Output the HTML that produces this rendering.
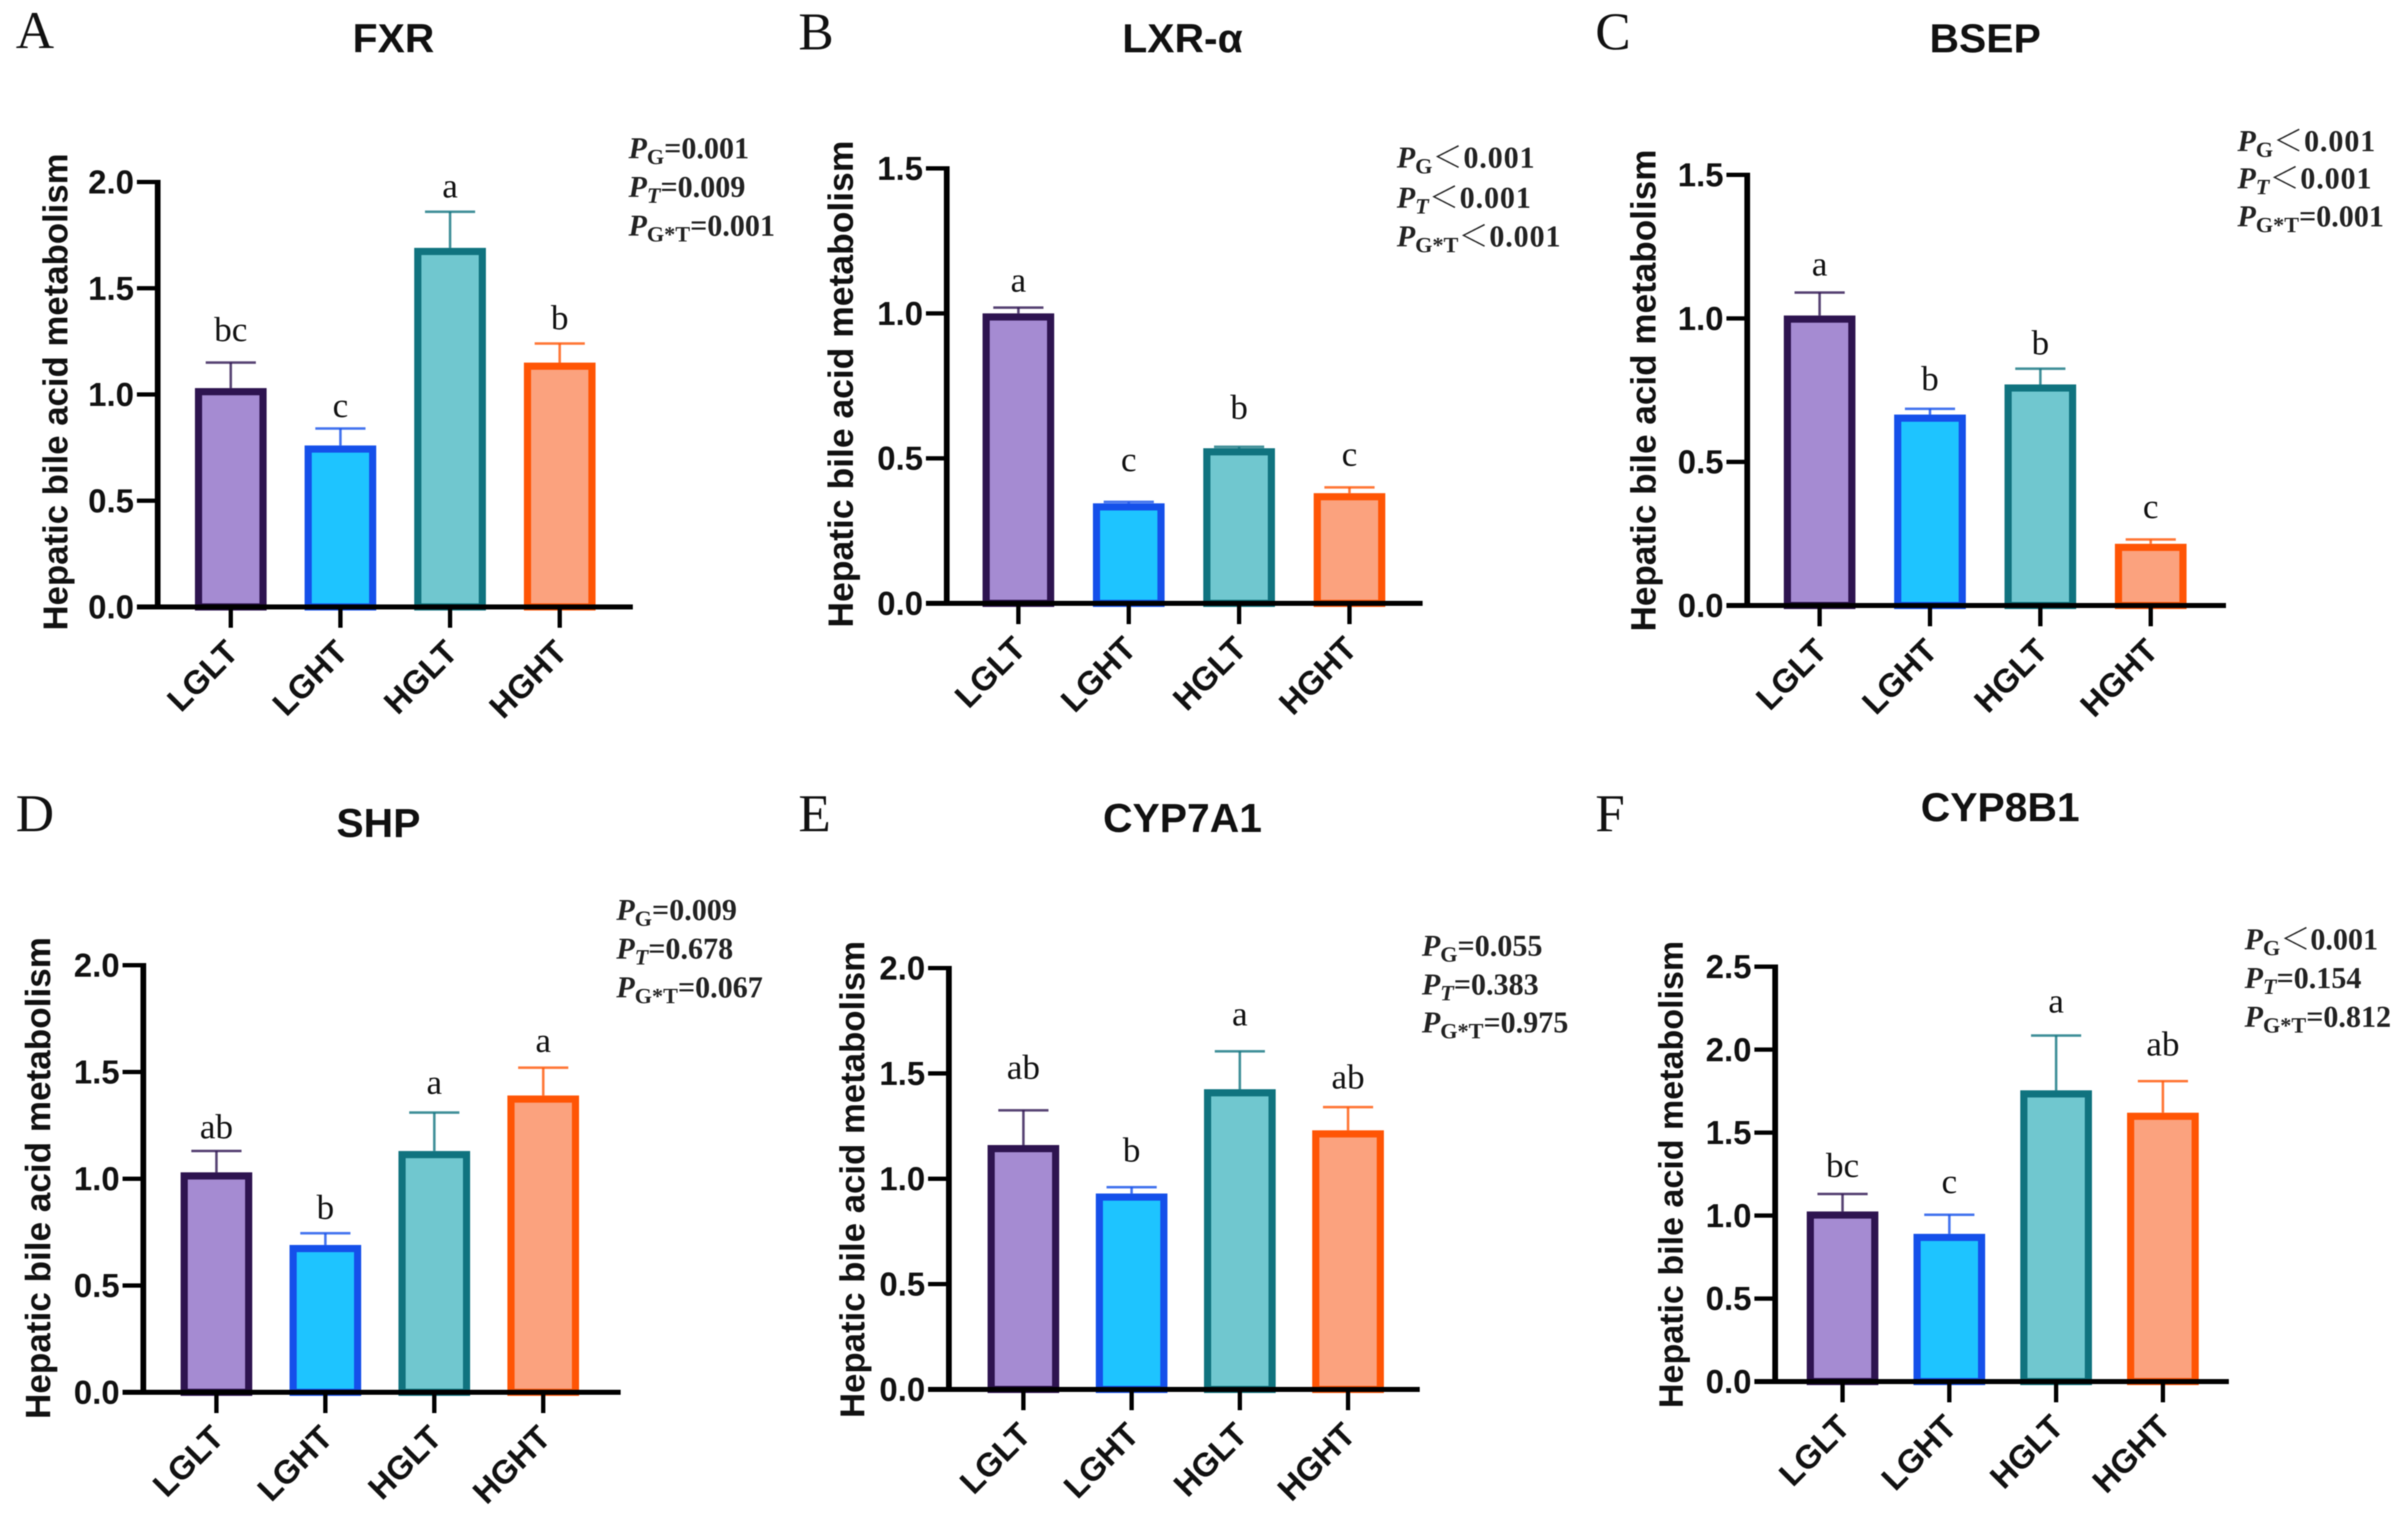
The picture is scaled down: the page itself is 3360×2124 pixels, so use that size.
<!DOCTYPE html>
<html lang="en">
<head>
<meta charset="utf-8">
<title>Hepatic bile acid metabolism gene expression</title>
<style>
html,body{margin:0;padding:0;background:#fff;}
svg{display:block;filter:blur(0.7px);}
.tick{font:bold 46px "Liberation Sans",sans-serif;fill:#111;}
.xlab{font:bold 46px "Liberation Sans",sans-serif;fill:#111;}
.ytitle{font-family:"Liberation Sans",sans-serif;font-weight:bold;fill:#111;}
.title{font:bold 57px "Liberation Sans",sans-serif;fill:#111;}
.plabel{font:74px "Liberation Serif",serif;fill:#111;}
.sig{font:49px "Liberation Serif",serif;fill:#111;}
.pval{font:bold 42px "Liberation Serif","Noto Serif CJK SC",serif;fill:#222;}
</style>
</head>
<body>
<svg id="chart" xmlns="http://www.w3.org/2000/svg" width="3360" height="2124" viewBox="0 0 3360 2124"></svg>
<script>
const categories = ['LGLT', 'LGHT', 'HGLT', 'HGHT'];
const yAxisTitle = 'Hepatic bile acid metabolism';

const titles = ['FXR', 'LXR-α', 'BSEP', 'SHP', 'CYP7A1', 'CYP8B1'];
const panelLetters = ['A', 'B', 'C', 'D', 'E', 'F'];

const meansFXR = [1.03, 0.76, 1.69, 1.15];
const errorTopsFXR = [1.15, 0.84, 1.86, 1.24];
const letterFXR = ['bc', 'c', 'a', 'b'];
const ticksFXR = [0.0, 0.5, 1.0, 1.5, 2.0];
const pFXR = ['=0.001', '=0.009', '=0.001'];

const meansLXR = [1.00, 0.345, 0.535, 0.38];
const errorTopsLXR = [1.02, 0.35, 0.54, 0.40];
const letterLXR = ['a', 'c', 'b', 'c'];
const ticksLXR = [0.0, 0.5, 1.0, 1.5];
const pLXR = ['＜0.001', '＜0.001', '＜0.001'];

const meansBSEP = [1.01, 0.665, 0.77, 0.215];
const errorTopsBSEP = [1.09, 0.685, 0.825, 0.23];
const letterBSEP = ['a', 'b', 'b', 'c'];
const ticksBSEP = [0.0, 0.5, 1.0, 1.5];
const pBSEP = ['＜0.001', '＜0.001', '=0.001'];

const meansSHP = [1.03, 0.69, 1.13, 1.39];
const errorTopsSHP = [1.13, 0.745, 1.31, 1.52];
const letterSHP = ['ab', 'b', 'a', 'a'];
const ticksSHP = [0.0, 0.5, 1.0, 1.5, 2.0];
const pSHP = ['=0.009', '=0.678', '=0.067'];

const meansCYP7 = [1.16, 0.93, 1.425, 1.23];
const errorTopsCYP7 = [1.325, 0.96, 1.605, 1.34];
const letterCYP7 = ['ab', 'b', 'a', 'ab'];
const ticksCYP7 = [0.0, 0.5, 1.0, 1.5, 2.0];
const pCYP7 = ['=0.055', '=0.383', '=0.975'];

const meansCYP8 = [1.025, 0.89, 1.755, 1.62];
const errorTopsCYP8 = [1.13, 1.005, 2.085, 1.81];
const letterCYP8 = ['bc', 'c', 'a', 'ab'];
const ticksCYP8 = [0.0, 0.5, 1.0, 1.5, 2.0, 2.5];
const pCYP8 = ['＜0.001', '=0.154', '=0.812'];

const allMeans = [meansFXR, meansLXR, meansBSEP, meansSHP, meansCYP7, meansCYP8];
const allTops = [errorTopsFXR, errorTopsLXR, errorTopsBSEP, errorTopsSHP, errorTopsCYP7, errorTopsCYP8];
const allLetters = [letterFXR, letterLXR, letterBSEP, letterSHP, letterCYP7, letterCYP8];
const allTicks = [ticksFXR, ticksLXR, ticksBSEP, ticksSHP, ticksCYP7, ticksCYP8];
const allP = [pFXR, pLXR, pBSEP, pSHP, pCYP7, pCYP8];

/* Page layout only: where each panel sits in the figure. */
const panelLayout = [
  {ax:220, base:847, top:254, x0:322, dx:153, right:883, ttx:549, tty:73, lx:22, ly:67, ytx:94, yty:547, ytf:48.5, px:877, py:[221,275,329], gap:20, nudge:[-10,4,0,0], ltSp:0},
  {ax:1321, base:842, top:235, x0:1421, dx:154, right:1985, ttx:1650, tty:73, lx:1114, ly:69, ytx:1190, yty:536, ytf:49.5, px:1949, py:[234,290,344], gap:30, nudge:[8,-13,-9,0], ltSp:1.2},
  {ax:2438, base:845, top:244, x0:2539, dx:154, right:3106, ttx:2770, tty:73, lx:2226, ly:69, ytx:2310, yty:545, ytf:49, px:3122, py:[211,263,316], gap:24, nudge:[0,-2,4,-6], ltSp:1.2},
  {ax:200, base:1943, top:1347, x0:302, dx:152, right:866, ttx:528, tty:1168, lx:22, ly:1160, ytx:70, yty:1644, ytf:49, px:860, py:[1284,1338,1392], gap:22, nudge:[4,2,-4,0], ltSp:0},
  {ax:1324, base:1939, top:1351, x0:1428, dx:151, right:1981, ttx:1650, tty:1161, lx:1114, ly:1160, ytx:1206, yty:1646, ytf:48.5, px:1984, py:[1334,1388,1441], gap:36, nudge:[-8,0,0,10], ltSp:0},
  {ax:2477, base:1928, top:1349, x0:2571, dx:149, right:3110, ttx:2791, tty:1146, lx:2226, ly:1160, ytx:2348, yty:1639, ytf:47.5, px:3132, py:[1325,1379,1433], gap:30, nudge:[6,0,-2,-6], ltSp:0}
];

const strokeColors = ['#2E1450', '#1550EA', '#10737F', '#FF5505'];
const fillColors = ['#A58BD2', '#1EC4FF', '#70C7CF', '#FBA27E'];
const NS = 'http://www.w3.org/2000/svg';
const svg = document.getElementById('chart');

function mk(tag, attrs, parent) {
  const node = document.createElementNS(NS, tag);
  for (const k in attrs) node.setAttribute(k, attrs[k]);
  parent.appendChild(node);
  return node;
}

function drawPanel(p) {
  const L = panelLayout[p];
  const means = allMeans[p], tops = allTops[p], letters = allLetters[p], ticks = allTicks[p], pv = allP[p];
  const maxTick = ticks[ticks.length - 1];
  const yScale = v => L.base - (v / maxTick) * (L.base - L.top);
  const xScale = i => L.x0 + i * L.dx;
  const barW = 100, sw = 10;

  const g = mk('g', {}, svg);
  
  

  const letter = mk('text', {x: L.lx, y: L.ly, class: 'plabel'}, g);
  letter.textContent = panelLetters[p];
  
  

  const title = mk('text', {x: L.ttx, y: L.tty, class: 'title', 'text-anchor': 'middle'}, g);
  title.textContent = titles[p];
  
  

  const yt = mk('text', {class: 'ytitle', 'font-size': L.ytf, 'text-anchor': 'middle', transform: 'translate(' + L.ytx + ',' + L.yty + ') rotate(-90)'}, g);
  yt.textContent = yAxisTitle;
  
  

  categories.forEach((c, i) => {
    const cx = xScale(i), yTop = yScale(tops[i]), yMean = yScale(means[i]);

    const stem = mk('line', {x1: cx, x2: cx, y1: yTop, y2: yMean, stroke: strokeColors[i], 'stroke-width': 3.5, opacity: 0.8}, g);
    
    

    const cap = mk('line', {x1: cx - 35, x2: cx + 35, y1: yTop, y2: yTop, stroke: strokeColors[i], 'stroke-width': 3.5, opacity: 0.8}, g);
    
    

    const bar = mk('rect', {x: cx - barW / 2 + sw / 2, y: yMean + sw / 2, width: barW - sw, height: L.base - yMean - sw / 2, fill: fillColors[i], stroke: strokeColors[i], 'stroke-width': sw}, g);
    
    

    const sig = mk('text', {x: cx, y: yTop - L.gap + L.nudge[i], class: 'sig', 'text-anchor': 'middle'}, g);
    sig.textContent = letters[i];
    
    

    const tk = mk('line', {x1: cx, x2: cx, y1: L.base, y2: L.base + 29, stroke: '#000', 'stroke-width': 6}, g);
    
    

    const xl = mk('text', {class: 'xlab', 'text-anchor': 'end', transform: 'translate(' + (cx + 13) + ',' + (L.base + 66) + ') rotate(-45)'}, g);
    xl.textContent = c;
    
    
  });

  ticks.forEach(t => {
    const y = yScale(t);
    const tk = mk('line', {x1: L.ax - 29, x2: L.ax, y1: y, y2: y, stroke: '#000', 'stroke-width': 6}, g);
    
    

    const tl = mk('text', {x: L.ax - 33, y: y + 16, class: 'tick', 'text-anchor': 'end'}, g);
    tl.textContent = t.toFixed(1);
    
    
  });

  const yAxis = mk('line', {x1: L.ax, x2: L.ax, y1: L.top - 3, y2: L.base + 3, stroke: '#000', 'stroke-width': 8}, g);
  
  

  const xAxis = mk('line', {x1: L.ax - 29, x2: L.right, y1: L.base, y2: L.base, stroke: '#000', 'stroke-width': 7}, g);
  
  

  const subs = ['G', 'T', 'G*T'];
  subs.forEach((s, i) => {
    const t = mk('text', {x: L.px, y: L.py[i], class: 'pval'}, g);
    
    
    const a = mk('tspan', {'font-style': 'italic'}, t);
    a.textContent = 'P';
    const b = mk('tspan', {dy: 8, 'font-size': 31, 'font-style': s === 'T' ? 'italic' : 'normal'}, t);
    b.textContent = s;
    const c = mk('tspan', {dy: -8, 'letter-spacing': pv[i].charAt(0) === '＜' ? L.ltSp : 0}, t);
    c.textContent = pv[i];
  });
}

titles.forEach((_, p) => drawPanel(p));
</script>
</body>
</html>
